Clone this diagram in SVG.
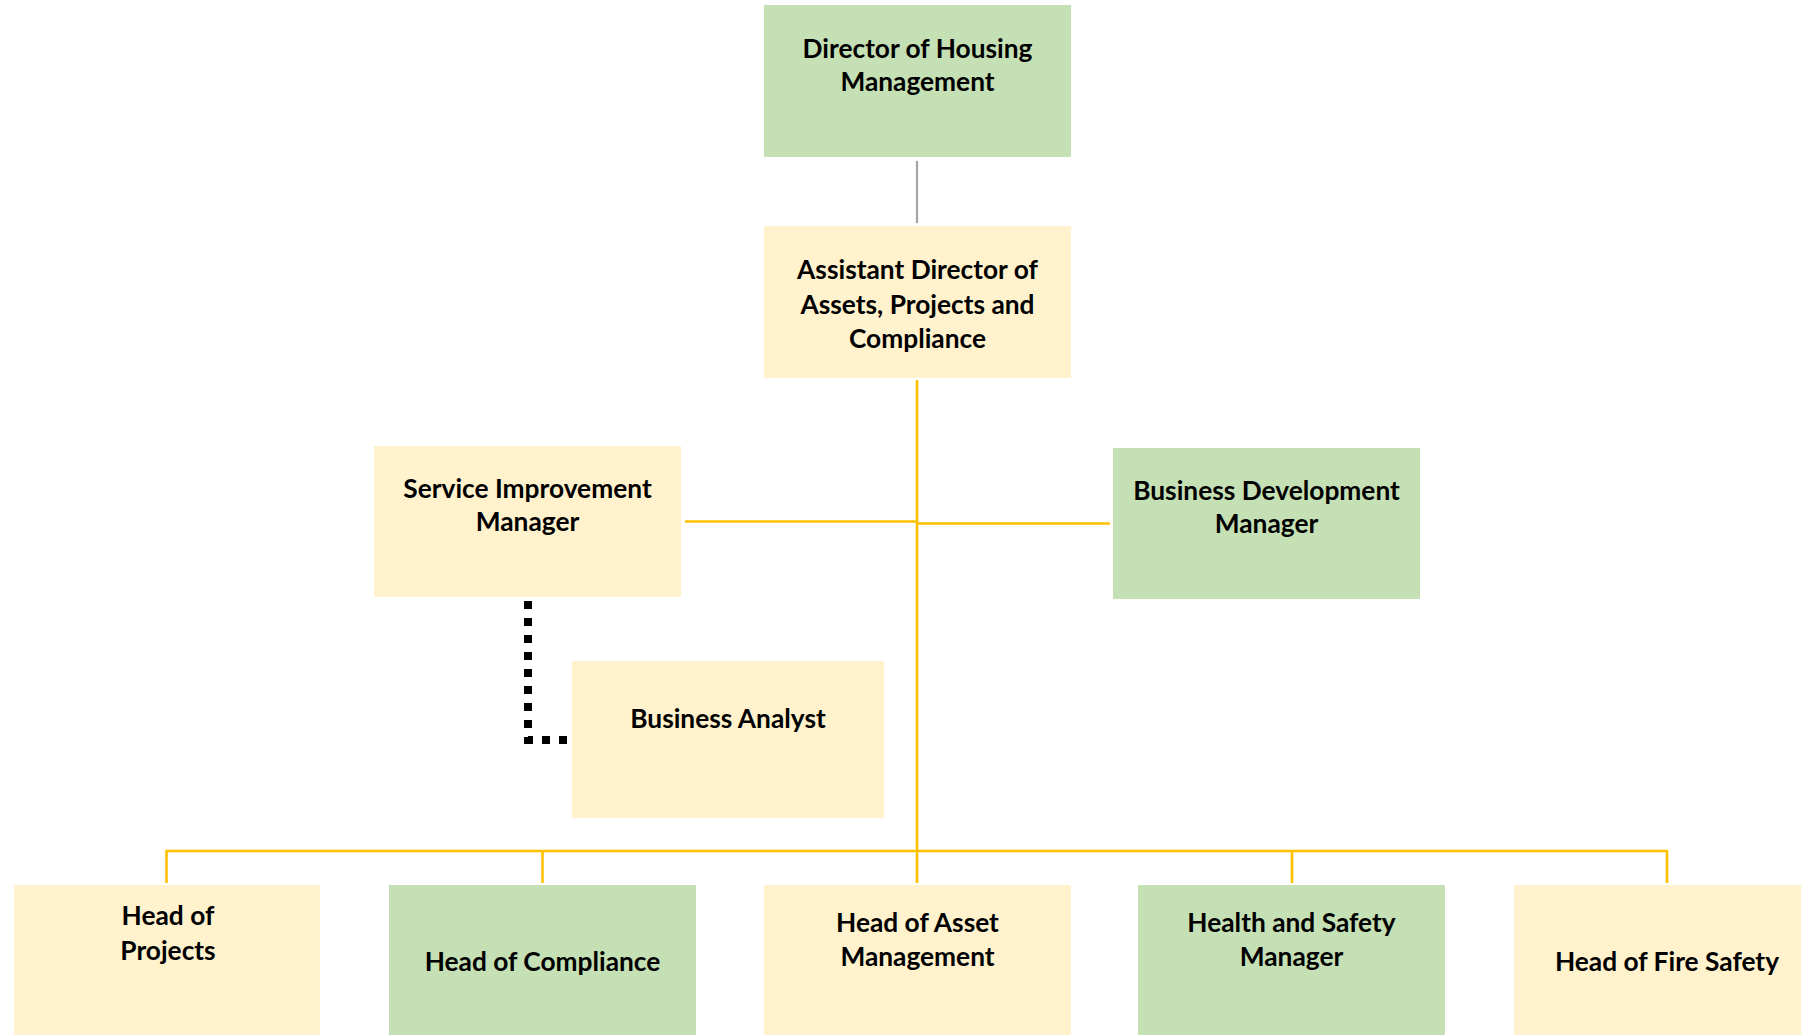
<svg xmlns="http://www.w3.org/2000/svg" width="1801" height="1035" viewBox="0 0 1801 1035">
<style>
.g{fill:#C5E0B4}
.y{fill:#FFF2CC}
.t{font-family:Lato,"Liberation Sans",sans-serif;font-weight:bold;font-size:26.3px;fill:#000;text-anchor:middle}
.gold{stroke:#FFC000;stroke-width:2.6;fill:none}
.gray{stroke:#A6A6A6;stroke-width:2.2;fill:none}
.dot{stroke:#000;stroke-width:8;stroke-dasharray:8 9;fill:none}
</style>
<rect width="1801" height="1035" fill="#fff"/>
<g id="connectors">
<line class="gray" x1="917" y1="161" x2="917" y2="223"/>
<line class="gold" x1="917" y1="380" x2="917" y2="852"/>
<line class="gold" x1="685" y1="521.5" x2="917" y2="521.5"/>
<line class="gold" x1="917" y1="523.5" x2="1110" y2="523.5"/>
<polyline class="gold" points="166.5,883 166.5,851 1667,851 1667,883"/>
<line class="gold" x1="542.5" y1="851" x2="542.5" y2="883"/>
<line class="gold" x1="917" y1="851" x2="917" y2="883"/>
<line class="gold" x1="1292" y1="851" x2="1292" y2="883"/>
<path class="dot" d="M528,601 L528,740 L572,740"/>
</g>
<g id="director">
<rect class="g" x="764" y="5" width="307" height="152"/>
<text class="t" x="917.5" y="58">Director of Housing</text>
<text class="t" x="917.5" y="91">Management</text>
</g>
<g id="assistant">
<rect class="y" x="764" y="226" width="307" height="152"/>
<text class="t" x="917.5" y="279">Assistant Director of</text>
<text class="t" x="917.5" y="314">Assets, Projects and</text>
<text class="t" x="917.5" y="348">Compliance</text>
</g>
<g id="sim">
<rect class="y" x="374" y="446" width="307" height="151"/>
<text class="t" x="527.5" y="498">Service Improvement</text>
<text class="t" x="527.5" y="531">Manager</text>
</g>
<g id="bdm">
<rect class="g" x="1113" y="448" width="307" height="151"/>
<text class="t" x="1266.5" y="500">Business Development</text>
<text class="t" x="1266.5" y="533">Manager</text>
</g>
<g id="analyst">
<rect class="y" x="572" y="661" width="312" height="157"/>
<text class="t" x="728" y="728">Business Analyst</text>
</g>
<g id="projects">
<rect class="y" x="14" y="885" width="306" height="150"/>
<text class="t" x="168" y="925">Head of</text>
<text class="t" x="168" y="960">Projects</text>
</g>
<g id="compliance">
<rect class="g" x="389" y="885" width="307" height="150"/>
<text class="t" x="542.5" y="971">Head of Compliance</text>
</g>
<g id="asset">
<rect class="y" x="764" y="885" width="307" height="150"/>
<text class="t" x="917.5" y="932">Head of Asset</text>
<text class="t" x="917.5" y="966">Management</text>
</g>
<g id="hs">
<rect class="g" x="1138" y="885" width="307" height="150"/>
<text class="t" x="1291.5" y="932">Health and Safety</text>
<text class="t" x="1291.5" y="966">Manager</text>
</g>
<g id="fire">
<rect class="y" x="1514" y="885" width="307" height="150"/>
<text class="t" x="1667" y="971">Head of Fire Safety</text>
</g>
</svg>
